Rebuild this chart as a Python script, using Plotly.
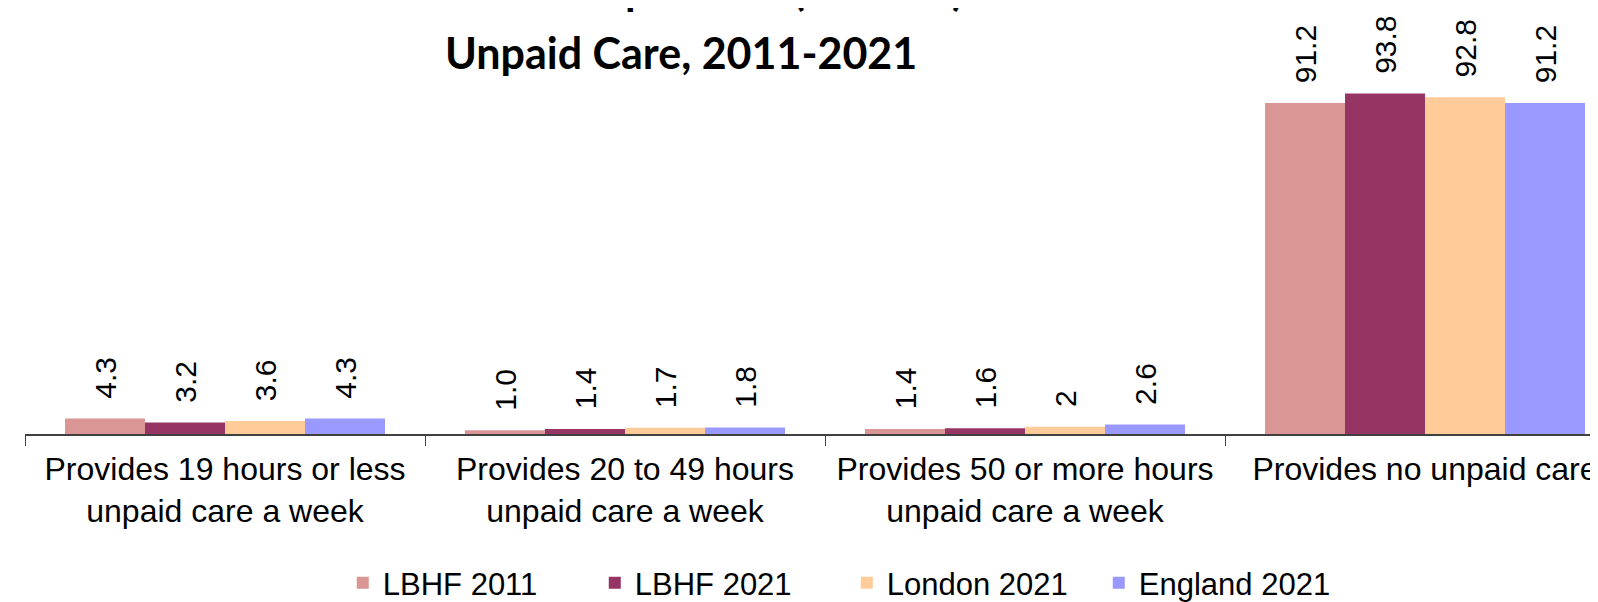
import plotly.graph_objects as go

categories = [
    "Provides 19 hours or less<br>unpaid care a week",
    "Provides 20 to 49 hours<br>unpaid care a week",
    "Provides 50 or more hours<br>unpaid care a week",
    "Provides no unpaid care",
]
series_names = ["LBHF 2011", "LBHF 2021", "London 2021", "England 2021"]
lbhf_2011 = [4.3, 1.0, 1.4, 91.2]
lbhf_2021 = [3.2, 1.4, 1.6, 93.8]
london_2021 = [3.6, 1.7, 2.0, 92.8]
england_2021 = [4.3, 1.8, 2.6, 91.2]
label_text = [
    ["4.3", "1.0", "1.4", "91.2"],
    ["3.2", "1.4", "1.6", "93.8"],
    ["3.6", "1.7", "2", "92.8"],
    ["4.3", "1.8", "2.6", "91.2"],
]
colors = ["#D99694", "#963464", "#FFCC99", "#9999FF"]

FONT = "Liberation Sans, Arial"
SPACER = "\u00a0\u00a0"

fig = go.Figure()
for name, vals, txt, col in zip(series_names,
                                [lbhf_2011, lbhf_2021, london_2021, england_2021],
                                label_text, colors):
    fig.add_trace(go.Bar(
        x=categories, y=vals, name=name, marker_color=col,
        marker_line_width=0,
        text=[SPACER + t for t in txt], textposition="outside", textangle=-90,
        textfont=dict(family=FONT, size=30, color="black"),
        cliponaxis=False,
    ))

fig.update_layout(
    barmode="group", bargap=0.2, bargroupgap=0,
    width=1598, height=602,
    margin=dict(l=17, r=0, t=63, b=176),
    plot_bgcolor="white", paper_bgcolor="white",
    showlegend=True,
    legend=dict(orientation="h", x=0.201, xanchor="left",
                yref="container", y=0, yanchor="bottom",
                font=dict(family=FONT, size=31, color="black"),
                entrywidth=207, entrywidthmode="pixels", itemwidth=30,
                traceorder="normal"),
)
fig.update_xaxes(
    range=[-0.5, 3.4525],
    showline=True, linecolor="#404040", linewidth=1.5,
    ticks="outside", tickson="boundaries", ticklen=10, tickcolor="#404040",
    tickfont=dict(family=FONT, size=32, color="black"),
    ticklabelstandoff=6,
    showgrid=False,
)
fig.update_yaxes(range=[0, 100], visible=False, showgrid=False)

fig.add_annotation(
    text="<b>Resident Population (Percent)</b>",
    xref="paper", yref="paper", x=0.415, y=1.228, xanchor="center", yanchor="middle",
    showarrow=False, font=dict(family="Lato", size=43, color="black"),
)
fig.add_annotation(
    text="<b>Unpaid Care, 2011-2021</b>",
    xref="paper", yref="paper", x=0.415, y=1.051, xanchor="center", yanchor="middle",
    showarrow=False, font=dict(family="Lato", size=43, color="black"),
)

fig.write_html("out.html")
